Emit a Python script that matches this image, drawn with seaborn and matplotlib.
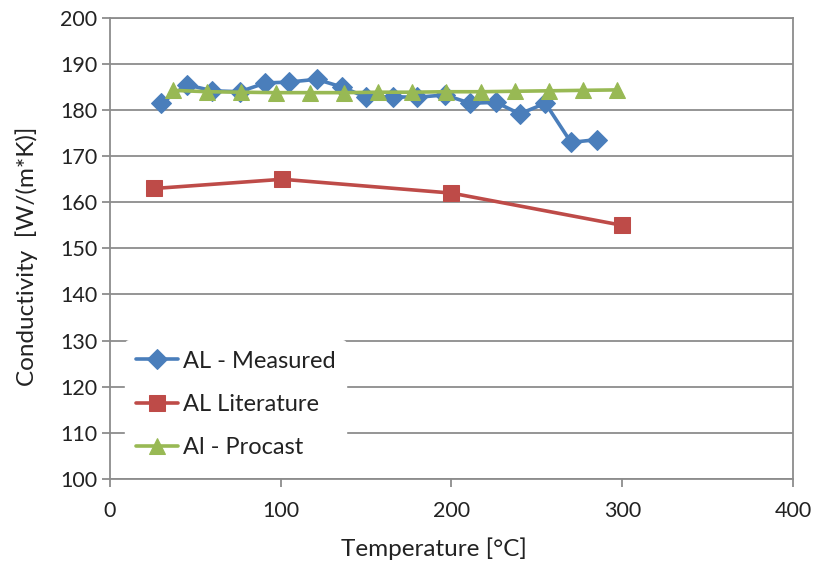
import matplotlib
matplotlib.use("Agg")
import matplotlib.pyplot as plt
import seaborn as sns
import pandas as pd

# ---- data ----
measured_x = [30, 45, 60, 76, 91, 105, 121, 136, 150, 166, 180, 196, 211, 226, 240, 255, 270, 285]
measured_y = [181.5, 185.5, 184.2, 184.0, 185.9, 186.1, 186.7, 185.0, 182.8, 182.9, 182.8, 183.3, 181.5, 181.7, 179.2, 181.5, 173.0, 173.6]

literature_x = [26, 101, 200, 300]
literature_y = [163.0, 165.0, 162.0, 155.0]

procast_x = [37, 57, 77, 97, 117, 137, 157, 177, 197, 217, 237, 257, 277, 297]
procast_y = [184.3, 184.0, 183.9, 183.8, 183.8, 183.8, 183.9, 183.9, 184.0, 184.0, 184.1, 184.2, 184.3, 184.4]

labels = ["AL - Measured", "AL Literature", "Al - Procast"]
colors = ["#4A7EBB", "#BE4B48", "#98B954"]
markers = ["D", "s", "^"]
marker_sizes = [10, 11, 11]

x_ticks = [0, 100, 200, 300, 400]
y_ticks = [100, 110, 120, 130, 140, 150, 160, 170, 180, 190, 200]

sns.set_style("white")
plt.rcParams["font.family"] = ["Lato", "DejaVu Sans"]

fig = plt.figure(figsize=(8.13, 5.63), dpi=100)
ax = fig.add_axes([0.1353, 0.1497, 0.8401, 0.8183])

series = [(measured_x, measured_y), (literature_x, literature_y), (procast_x, procast_y)]
for (xs, ys), lab, col, mk, ms in zip(series, labels, colors, markers, marker_sizes):
    df = pd.DataFrame({"x": xs, "y": ys})
    sns.lineplot(data=df, x="x", y="y", ax=ax, sort=False, estimator=None,
                 color=col, linewidth=2.6, marker=mk, markersize=ms,
                 markeredgecolor=col, markerfacecolor=col, label=lab, zorder=3)

grid_col = "#8C8C8C"
ax.set_xlim(0, 400)
ax.set_ylim(100, 200)
ax.set_xticks(x_ticks)
ax.set_yticks(y_ticks)
ax.yaxis.grid(True, color=grid_col, linewidth=1.3)
ax.xaxis.grid(False)
for s in ax.spines.values():
    s.set_visible(True)
    s.set_color(grid_col)
    s.set_linewidth(1.3)
ax.tick_params(axis="both", direction="out", length=6, width=1.3, color=grid_col,
               labelsize=15.5, labelcolor="#222222", pad=3)
ax.tick_params(axis="x", bottom=True, pad=10)
ax.tick_params(axis="y", left=True)

ax.set_xlabel("Temperature [°C]", fontsize=17.5, color="#222222")
ax.set_ylabel("Conductivity  [W/(m*K)]", fontsize=17.5, color="#222222")
ax.xaxis.set_label_coords(0.475, -0.128)
ax.yaxis.set_label_coords(-0.106, 0.483)

leg = ax.legend(loc="lower left", bbox_to_anchor=(0.022, 0.022), frameon=True,
                fontsize=17, handlelength=1.8, labelspacing=0.94,
                handletextpad=0.2, borderpad=0.45, borderaxespad=0)
leg.get_frame().set_facecolor("white")
leg.get_frame().set_edgecolor("white")
leg.get_frame().set_alpha(1)
for t in leg.get_texts():
    t.set_color("#222222")

fig.savefig("out.png", dpi=100, facecolor="white")
